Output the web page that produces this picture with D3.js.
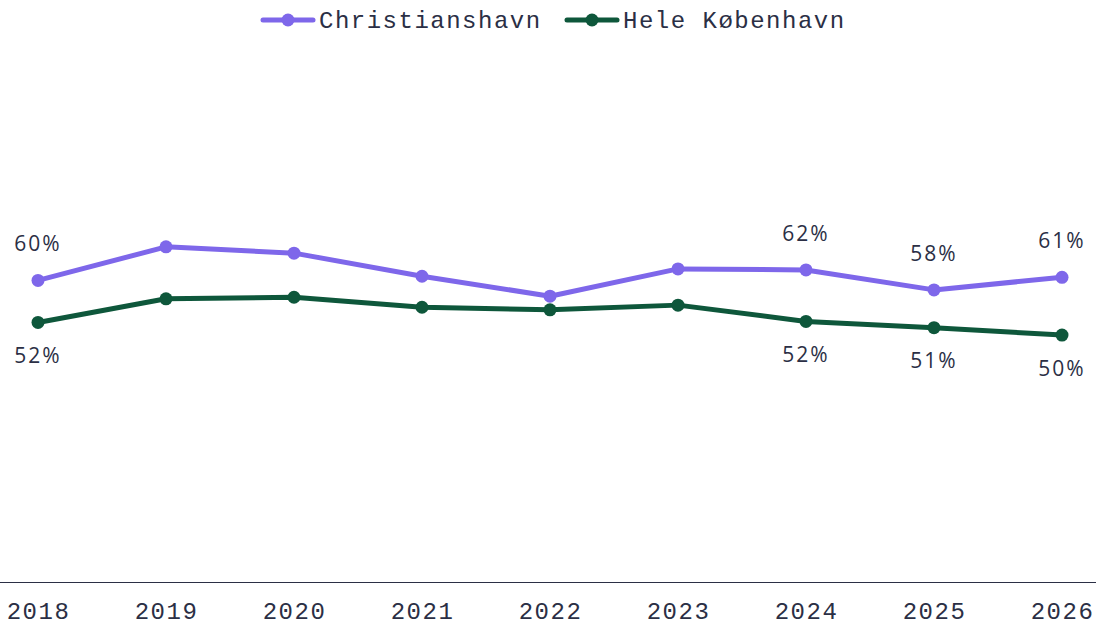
<!DOCTYPE html>
<html>
<head>
<meta charset="utf-8">
<script src="https://cdn.jsdelivr.net/npm/d3@7"></script>
<style>
  body { margin: 0; background: #fff; }
  svg { display: block; }
</style>
</head>
<body>
<svg width="1096" height="626"></svg>
<script>
// **** Data ****
var years = [2018, 2019, 2020, 2021, 2022, 2023, 2024, 2025, 2026];
var christianshavn = [60.2, 66.6, 65.4, 61.0, 57.2, 62.4, 62.2, 58.4, 60.8];
var heleKbh = [52.2, 56.7, 57.0, 55.1, 54.6, 55.5, 52.4, 51.2, 49.8];
var labelledYears = [2018, 2024, 2025, 2026];
var seriesNames = ["Christianshavn", "Hele København"];

var purple = "#7e67ea";
var green = "#0e573b";
var ink = "#2b2f45";

var svg = d3.select("svg");

// **** Scales ****
var xScale = d3.scalePoint()
    .domain(years).range([38, 1062]);

var yScale = d3.scaleLinear()
    .domain([0, 100]).range([596.5, 71.5]);

// x axis: just a baseline and year labels
var xAxis = svg.append("g").attr("class", "x axis")
    .attr("transform", "translate(0,582)")
    .call(d3.axisBottom(xScale).tickSize(0).tickPadding(30).tickFormat(d => d));

xAxis.select(".domain").remove();
svg.append("line")
    .attr("x1", 0).attr("x2", 1096)
    .attr("y1", 582.5).attr("y2", 582.5)
    .attr("stroke", ink).attr("stroke-width", 1);

xAxis.selectAll("text")
    .attr("dy", null)
    .attr("y", 37)
    .style("font-family", "'Liberation Mono', monospace")
    .style("font-size", "24px")
    .style("letter-spacing", "1.5px")
    .style("fill", ink);

// **** Lines ****
var line = d3.line()
    .x((d, i) => xScale(years[i]))
    .y(d => yScale(d));

var series = [
    { name: seriesNames[0], values: christianshavn, color: purple, dy: -35 },
    { name: seriesNames[1], values: heleKbh, color: green, dy: 35 }
];

series.forEach(function(s) {
    svg.append("path")
        .datum(s.values)
        .attr("fill", "none")
        .attr("stroke", s.color)
        .attr("stroke-width", 5)
        .attr("stroke-linejoin", "round")
        .attr("d", line);

    svg.selectAll(null)
        .data(s.values)
        .enter()
        .append("circle")
        .attr("cx", (d, i) => xScale(years[i]))
        .attr("cy", d => yScale(d))
        .attr("r", 6.5)
        .attr("fill", s.color);

    svg.selectAll(null)
        .data(s.values.filter((d, i) => labelledYears.includes(years[i])))
        .enter()
        .append("text")
        .attr("x", (d, i) => xScale(labelledYears[i]))
        .attr("y", d => yScale(d) + s.dy)
        .attr("text-anchor", "middle")
        .attr("dominant-baseline", "middle")
        .style("font-family", "'Open Sans', sans-serif")
        .style("font-size", "21px")
        .style("letter-spacing", "2px")
        .style("fill", ink)
        .text(d => Math.round(d) + "%");
});

// **** Legend ****
var legend = svg.append("g").attr("class", "legend");
var legendX = [263, 567];

series.forEach(function(s, i) {
    var g = legend.append("g").attr("transform", `translate(${legendX[i]},20)`);
    g.append("line")
        .attr("x1", 0).attr("x2", 50)
        .attr("stroke", s.color).attr("stroke-width", 5)
        .attr("stroke-linecap", "round");
    g.append("circle")
        .attr("cx", 25).attr("r", 6.5)
        .attr("fill", s.color);
    g.append("text")
        .attr("x", 56)
        .attr("y", 2)
        .attr("dominant-baseline", "middle")
        .style("font-family", "'Liberation Mono', monospace")
        .style("font-size", "24px")
        .style("letter-spacing", "1.5px")
        .style("fill", ink)
        .text(s.name);
});
</script>
</body>
</html>
